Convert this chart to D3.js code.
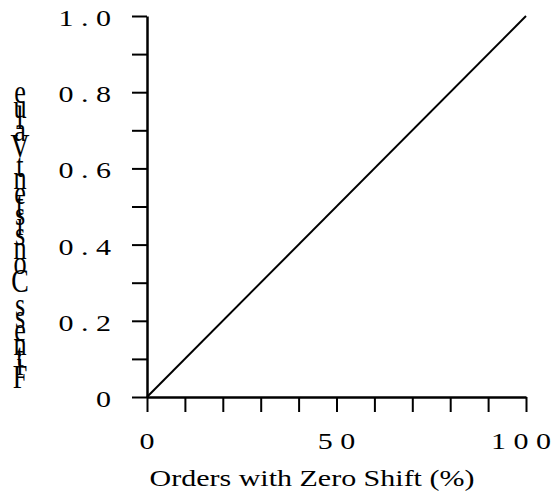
<!DOCTYPE html>
<html>
<head>
<meta charset="utf-8">
<script src="https://cdn.jsdelivr.net/npm/d3@7"></script>
<style>
  body { margin: 0; background: #fff; }
  svg { display: block; }
  text { font-family: "Liberation Serif", "Times New Roman", serif; fill: #000; }
</style>
</head>
<body>
<svg id="chart" width="553" height="498"></svg>
<script>
// data
var shiftPct = [0, 100]          // Orders with Zero Shift (%)
var fracConsistent = [0, 1]      // Fitness Consistent Value

var xTickValues = [0, 10, 20, 30, 40, 50, 60, 70, 80, 90, 100]
var xLabelValues = [0, 50, 100]
var xLabelText = ["0", "5 0", "1 0 0"]

var yTickValues = [0, 0.1, 0.2, 0.3, 0.4, 0.5, 0.6, 0.7, 0.8, 0.9, 1]
var yLabelValues = [0, 0.2, 0.4, 0.6, 0.8, 1]
var yLabelText = ["0", "0 . 2", "0 . 4", "0 . 6", "0 . 8", "1 . 0"]

var xTitle = "Orders with Zero Shift (%)"
var yTitle = "Fitness Consistent Value"

var W = 553, H = 498
var fontSize = 24
var stretch = 1.25   // text in the picture is drawn wide

var svg = d3.select("#chart")

var x = d3.scaleLinear().domain([0, 100]).range([147, 526])
var y = d3.scaleLinear().domain([0, 1]).range([397, 16])

// y axis (ticks pointing out, left)
var yAxis = svg.append("g")
  .attr("transform", "translate(" + x(0) + ",0)")
  .call(d3.axisLeft(y).tickValues(yTickValues).tickSize(15).tickSizeOuter(0).tickFormat(""))
yAxis.select(".domain").attr("stroke", "#000").attr("stroke-width", 2.5)
yAxis.selectAll(".tick line").attr("stroke", "#000").attr("stroke-width", 2)

// x axis (ticks pointing down)
var xAxis = svg.append("g")
  .attr("transform", "translate(0," + y(0) + ")")
  .call(d3.axisBottom(x).tickValues(xTickValues).tickSize(15).tickSizeOuter(0).tickFormat(""))
xAxis.select(".domain").attr("stroke", "#000").attr("stroke-width", 2.5)
xAxis.selectAll(".tick line").attr("stroke", "#000").attr("stroke-width", 2)

// tick labels, drawn wide like the original
svg.append("g").selectAll("text")
  .data(yLabelValues)
  .enter().append("text")
  .attr("transform", function(d) { return "translate(111," + (y(d) + 2) + ") scale(" + stretch + ",1)" })
  .attr("text-anchor", "end")
  .attr("dominant-baseline", "central")
  .style("font-size", fontSize + "px")
  .style("white-space", "pre")
  .text(function(d, i) { return yLabelText[i] })

svg.append("g").selectAll("text")
  .data(xLabelValues)
  .enter().append("text")
  .attr("text-anchor", "middle")
  .attr("dominant-baseline", "central")
  .style("font-size", fontSize + "px")
  .style("white-space", "pre")
  .text(function(d, i) { return xLabelText[i] })
  .attr("transform", function(d) {
    var w = this.getComputedTextLength() * stretch
    var cx = Math.min(x(d), W - w / 2 - 2) // keep the last one inside the page
    return "translate(" + cx + ",441) scale(" + stretch + ",1)"
  })

// x title
svg.append("text")
  .attr("transform", "translate(312,486) scale(" + stretch + ",1)")
  .attr("text-anchor", "middle")
  .style("font-size", fontSize + "px")
  .text(xTitle)

// y title: upright letters stacked bottom to top (they overlap in the original too)
var probe = svg.append("text")
  .style("font-size", fontSize + "px")
  .style("white-space", "pre")
  .text(yTitle)
var starts = [], ends = []
for (var i = 0; i < yTitle.length; i++) {
  starts.push(probe.node().getStartPositionOfChar(i).x)
  ends.push(probe.node().getEndPositionOfChar(i).x)
}
probe.remove()

var yBase = 385
var span = (starts[yTitle.length - 1] + ends[yTitle.length - 1]) / 2 - (starts[0] + ends[0]) / 2
var k = (377 - 92) / span   // fit first and last letter centres
svg.append("g").selectAll("text")
  .data(yTitle.split(""))
  .enter().append("text")
  .attr("transform", function(d, i) {
    var c = (starts[i] + ends[i]) / 2 - (starts[0] + ends[0]) / 2
    return "translate(20," + (377 - c * k) + ") scale(1.05,1.35)"
  })
  .attr("text-anchor", "middle")
  .attr("dominant-baseline", "central")
  .style("font-size", "25px")
  .text(function(d) { return d === " " ? "" : d })

// the line
var line = d3.line()
  .x(function(d, i) { return x(shiftPct[i]) })
  .y(function(d) { return y(d) })

svg.append("path")
  .datum(fracConsistent)
  .attr("d", line)
  .attr("fill", "none")
  .attr("stroke", "#000")
  .attr("stroke-width", 2)
</script>
</body>
</html>
